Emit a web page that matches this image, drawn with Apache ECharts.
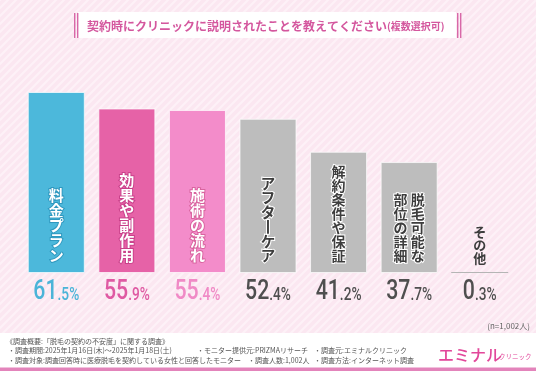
<!DOCTYPE html>
<html><head><meta charset="utf-8">
<script src="https://cdn.jsdelivr.net/npm/echarts@6/dist/echarts.min.js"></script>
<style>html,body{margin:0;padding:0;background:#fceaf3;}#c{width:536px;height:371px;}</style>
</head><body><div id="c"></div>
<script>
// ---- data ----
const categories = ['料金プラン','効果や副作用','施術の流れ','アフターケア','解約条件や保証','脱毛可能な部位の詳細','その他'];
const values = [61.5, 55.9, 55.4, 52.4, 41.2, 37.7, 0.3];
// text columns shown inside the bars (left column first)
const barLabelColumns = [['料金プラン'],['効果や副作用'],['施術の流れ'],['アフターケア'],['解約条件や保証'],['部位の詳細','脱毛可能な'],['その他']];
const titleMain = '契約時にクリニックに説明されたことを教えてください';
const titleSub = '(複数選択可)';
const sampleNote = '(n=1,002人)';
const footerLines = [
  ['《調査概要:「脱毛の契約の不安度」に関する調査》'],
  ['・調査期間:2025年1月16日(木)～2025年1月18日(土)','・モニター提供元:PRIZMAリサーチ','・調査元:エミナルクリニック'],
  ['・調査対象:調査回答時に医療脱毛を契約している女性と回答したモニター','・調査人数:1,002人','・調査方法:インターネット調査']
];
const logoMain = 'エミナル';
const logoSub = 'クリニック';

// ---- styles ----
const barColors = ['#4cb8db','#e662a7','#f38cca','#bdbdbd','#bdbdbd','#bdbdbd','#b5b5b5'];
const valColors = ['#4bb4d8','#df5aa3','#f08ac6','#4f4f4f','#4f4f4f','#4f4f4f','#4f4f4f'];
const outline = ['#2f98bf','#c9408a','#d9649f',null,null,null,null];
const CJK = '"Noto Sans CJK JP","Noto Sans CJK SC",sans-serif';
const NUM = 'Roboto,"Noto Sans",sans-serif';

function vertical(cols){
  const tr = s => Array.from(s).map(ch => ch === 'ー' ? '丨' : ch);
  const arr = cols.map(tr);
  const n = Math.max(...arr.map(a=>a.length));
  const lines = [];
  for(let i=0;i<n;i++){ lines.push(arr.map(a=>a[i]||'　').join(' ')); }
  return lines.join('\n');
}

function makePattern(){
  const cv = document.createElement('canvas');
  cv.width = 8; cv.height = 8;
  const g = cv.getContext('2d');
  g.fillStyle = '#fbe7f1'; g.fillRect(0,0,8,8);
  g.strokeStyle = '#fdf1f7'; g.lineWidth = 2;
  g.beginPath(); g.moveTo(-2,10); g.lineTo(10,-2); g.stroke();
  g.beginPath(); g.moveTo(-2,2); g.lineTo(2,-2); g.stroke();
  g.beginPath(); g.moveTo(6,10); g.lineTo(10,6); g.stroke();
  return cv;
}

const seriesData = values.map((v,i)=>{
  const gray = outline[i] === null;
  const isOther = i === values.length-1;
  const fs = i < 3 ? 15 : (i === 3 ? 14.5 : (isOther ? 13 : 14));
  return {
    value: v,
    itemStyle: { color: barColors[i], borderColor: isOther ? barColors[i] : 'rgba(255,255,255,0.7)', borderWidth: isOther ? 0 : 1 },
    label: {
      show: true,
      position: isOther ? 'top' : 'insideBottom',
      distance: isOther ? 8 : 10,
      formatter: vertical(barLabelColumns[i]),
      fontFamily: CJK,
      fontSize: fs,
      lineHeight: fs,
      fontWeight: 'bold',
      color: gray ? '#3d3d3d' : '#ffffff',
      textBorderColor: gray ? (isOther ? 'transparent' : '#ffffff') : outline[i],
      textBorderWidth: gray ? (isOther ? 0 : 2) : 2,
      align: 'center'
    }
  };
});

const chart = echarts.init(document.getElementById('c'), null, {renderer:'canvas'});
const footerX = [[6],[8,197,314],[8,248,314]];
const footerY = [341, 350.5, 360];
const footerGraphics = [];
footerLines.forEach((line,li)=>{
  line.forEach((seg,si)=>{
    footerGraphics.push({type:'text', x: footerX[li][si], y: footerY[li],
      style:{text: seg, fill:'#555', font:'7px '+CJK, textVerticalAlign:'middle', textAlign:'left'}});
  });
});

const baseGraphics = [
  {type:'rect', shape:{x:78, y:12, width:378, height:26}, style:{fill:'#ffffff'}},
  {type:'rect', shape:{x:74, y:13, width:1.4, height:25}, style:{fill:'#d868a8'}},
  {type:'rect', shape:{x:77, y:13, width:1.4, height:25}, style:{fill:'#d868a8'}},
  {type:'rect', shape:{x:457, y:13, width:1.4, height:25}, style:{fill:'#d868a8'}},
  {type:'rect', shape:{x:460, y:13, width:1.4, height:25}, style:{fill:'#d868a8'}},
  {type:'text', x:87, y:26, style:{
    text:'{a|'+titleMain+'}{b|'+titleSub+'}', textVerticalAlign:'middle',
    rich:{a:{fill:'#d4579e', font:'bold 12px '+CJK}, b:{fill:'#d4579e', font:'bold 10px '+CJK}}
  }},
  {type:'text', x:530, y:326, style:{text: sampleNote, fill:'#666', font:'8px '+CJK, textAlign:'right', textVerticalAlign:'middle'}},
  {type:'rect', shape:{x:0, y:333, width:536, height:35}, style:{fill:'#ffffff'}},
  {type:'rect', shape:{x:0, y:367.5, width:536, height:3.5}, style:{fill:'#e384bb'}},
  ...footerGraphics,
  {type:'text', x:438, y:355, style:{text:logoMain, fill:'#e2479a', font:'500 16px '+CJK, textVerticalAlign:'middle'}},
  {type:'text', x:499, y:357, style:{text:logoSub, fill:'#e2479a', font:'6.5px '+CJK, textVerticalAlign:'middle'}}
];

chart.setOption({
  backgroundColor: {image: makePattern(), repeat: 'repeat'},
  animation: false,
  grid: {left: 21, right: 21, top: 67, bottom: 98},
  xAxis: {
    type: 'category', data: categories,
    axisLine: {show:false}, axisTick: {show:false}, axisLabel: {show:false}
  },
  yAxis: {type:'value', min:0, max:70, show:false, splitLine:{show:false}},
  series: [{type:'bar', data: seriesData, barWidth: 57}],
  graphic: baseGraphics
});

// value labels under each bar, positioned through the axis scales
const y0 = chart.convertToPixel({yAxisIndex:0}, 0);
const valueGraphics = values.map((v,i)=>{
  const cx = chart.convertToPixel({xAxisIndex:0}, categories[i]);
  const p = v.toFixed(1).split('.');
  return {type:'text', x: cx, y: y0 + 18, scaleX: 0.76, scaleY: 1,
    style:{
      text:'{b|'+p[0]+'}{s|.'+p[1]+'%}', textAlign:'center', textVerticalAlign:'middle',
      rich:{
        b:{fill:valColors[i], font:'500 28px '+NUM, verticalAlign:'bottom', lineHeight:30},
        s:{fill:valColors[i], font:'500 18px '+NUM, verticalAlign:'bottom', lineHeight:30, padding:[0,0,2,0]}
      }
    }};
});
chart.setOption({graphic: baseGraphics.concat(valueGraphics)});
</script>
</body></html>
